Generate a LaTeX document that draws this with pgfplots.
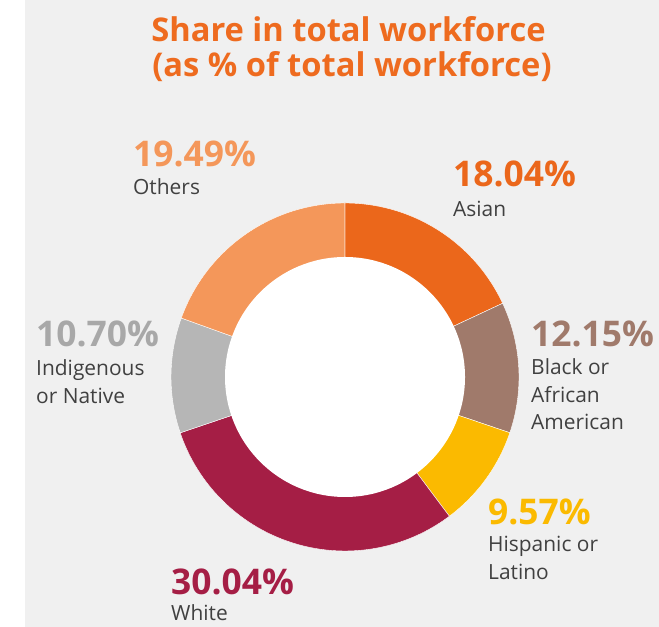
\documentclass[border=0pt]{standalone}
\usepackage{pgfplots}
\pgfplotsset{compat=1.18}
\usepackage{pgfplotstable}
\usepackage{fontspec}
\setmainfont{Open Sans}
\definecolor{bg}{HTML}{F0F0F0}
\definecolor{col0}{HTML}{EB671B}
\definecolor{col1}{HTML}{A07A6B}
\definecolor{col2}{HTML}{FBBA00}
\definecolor{col3}{HTML}{A51E45}
\definecolor{col4}{HTML}{B6B6B6}
\definecolor{col5}{HTML}{F4975A}
\definecolor{titlec}{HTML}{EE6B1F}
\definecolor{txt}{HTML}{404040}
\definecolor{graytxt}{HTML}{A8A8A8}

\pgfplotstableread[col sep=comma]{
label,value
Asian,18.04
Black or African American,12.15
Hispanic or Latino,9.57
White,30.04
Indigenous or Native,10.70
Others,19.49
}\datatable

% cumulative angles (clockwise from the top)
\def\cum{0}
\pgfplotsforeachungrouped \i in {0,...,5}{%
  \pgfplotstablegetelem{\i}{value}\of\datatable
  \pgfmathsetmacro\sa{90-3.6*\cum}%
  \pgfmathsetmacro\cumnew{\cum+\pgfplotsretval}%
  \pgfmathsetmacro\ea{90-3.6*\cumnew}%
  \expandafter\xdef\csname sa\i\endcsname{\sa}%
  \expandafter\xdef\csname ea\i\endcsname{\ea}%
  \xdef\cum{\cumnew}%
}
\newcommand\SA[1]{\csname sa#1\endcsname}
\newcommand\EA[1]{\csname ea#1\endcsname}

\newcommand\pct[1]{\fontsize{35.5}{35.5}\selectfont\bfseries #1}
\newcommand\lab{\fontsize{21}{28}\selectfont}

\begin{document}
\begin{tikzpicture}[x=1bp,y=1bp]
\fill[white] (0,0) rectangle (659,627);
\fill[bg] (25,0) rectangle (659,627);
\begin{axis}[
  at={(345bp,250bp)}, anchor=origin,
  x=1bp, y=1bp, scale only axis,
  xmin=-345, xmax=314, ymin=-250, ymax=377,
  hide axis, clip=false]
\pgfplotsinvokeforeach{0,...,5}{
  \fill[col#1, draw=white, line width=0.4pt] (axis cs:0,0) -- (axis cs:{174*cos(\SA{#1})},{174*sin(\SA{#1})})
     arc[start angle=\SA{#1}, end angle=\EA{#1}, radius=174bp] -- cycle;
}
\fill[white] (axis cs:0,0) circle[radius=120bp];
\end{axis}
% title
\node[anchor=base, inner sep=0, text=titlec, font=\fontsize{32.8}{35}\selectfont\bfseries] at (348.5,627-42) {Share in total workforce};
\node[anchor=base, inner sep=0, text=titlec, font=\fontsize{32.8}{35}\selectfont\bfseries] at (352,627-77) {(as \% of total workforce)};
% Others
\node[anchor=base west, inner sep=0, text=col5] at (133,627-167) {\pct{19.49\%}};
\node[anchor=base west, inner sep=0, text=txt] at (133,627-195) {\lab Others};
% Asian
\node[anchor=base west, inner sep=0, text=col0] at (453,627-187) {\pct{18.04\%}};
\node[anchor=base west, inner sep=0, text=txt] at (453,627-217) {\lab Asian};
% Indigenous
\node[anchor=base west, inner sep=0, text=graytxt] at (36,627-347) {\pct{10.70\%}};
\node[anchor=base west, inner sep=0, text=txt] at (36,627-376) {\lab Indigenous};
\node[anchor=base west, inner sep=0, text=txt] at (36,627-404) {\lab or Native};
% Black
\node[anchor=base west, inner sep=0, text=col1] at (531,627-347) {\pct{12.15\%}};
\node[anchor=base west, inner sep=0, text=txt] at (531,627-375) {\lab Black or};
\node[anchor=base west, inner sep=0, text=txt] at (531,627-403) {\lab African};
\node[anchor=base west, inner sep=0, text=txt] at (531,627-430) {\lab American};
% Hispanic
\node[anchor=base west, inner sep=0, text=col2] at (488,627-525) {\pct{9.57\%}};
\node[anchor=base west, inner sep=0, text=txt] at (488,627-552) {\lab Hispanic or};
\node[anchor=base west, inner sep=0, text=txt] at (488,627-580) {\lab Latino};
% White
\node[anchor=base west, inner sep=0, text=col3] at (171,627-595) {\pct{30.04\%}};
\node[anchor=base west, inner sep=0, text=txt] at (171,627-621) {\lab White};
\useasboundingbox (0,0) rectangle (659,627);
\end{tikzpicture}
\end{document}
